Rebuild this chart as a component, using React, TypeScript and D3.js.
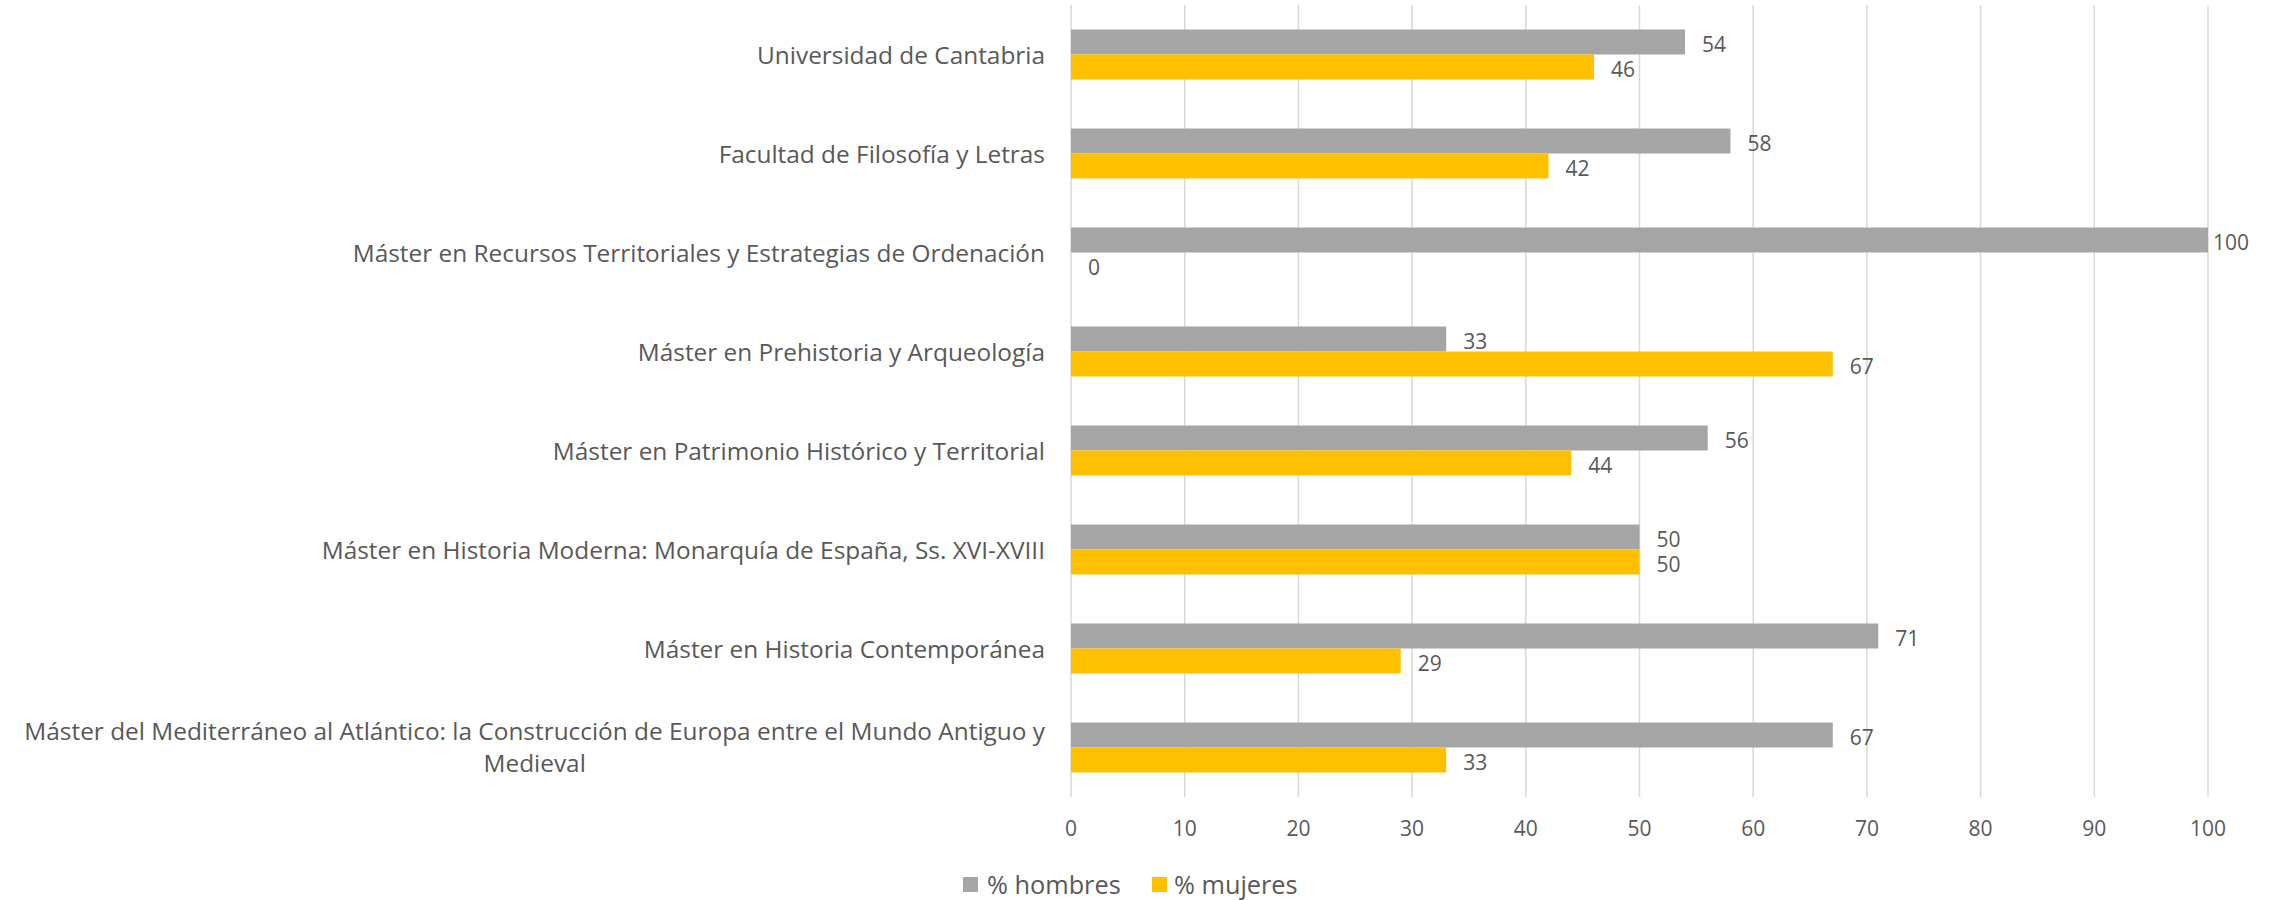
import React, { useLayoutEffect, useRef, useState } from "react";
import * as d3 from "d3";

const categories: string[][] = [
  ["Universidad de Cantabria"],
  ["Facultad de Filosofía y Letras"],
  ["Máster en Recursos Territoriales y Estrategias de Ordenación"],
  ["Máster en Prehistoria y Arqueología"],
  ["Máster en Patrimonio Histórico y Territorial"],
  ["Máster en Historia Moderna: Monarquía de España, Ss. XVI-XVIII"],
  ["Máster en Historia Contemporánea"],
  ["Máster del Mediterráneo al Atlántico: la Construcción de Europa entre el Mundo Antiguo y", "Medieval"],
];
const hombres = [54, 58, 100, 33, 56, 50, 71, 67];
const mujeres = [46, 42, 0, 67, 44, 50, 29, 33];
const seriesNames = ["% hombres", "% mujeres"];
const seriesColors = ["#A5A5A5", "#FFC000"];
const xTicks = [0, 10, 20, 30, 40, 50, 60, 70, 80, 90, 100];

const W = 2279;
const H = 900;
const FONT = "'Open Sans', sans-serif";
const TXT = "#595959";
const CAT_FS = 24.4;

export default function App() {
  const x = d3.scaleLinear().domain([0, 100]).range([1071, 2208]);
  const keys = categories.map((_, i) => String(i));
  const y0 = d3.scaleBand<string>().domain(keys).range([5, 797]).padding(0);
  const y1 = d3
    .scaleBand<string>()
    .domain(seriesNames)
    .range([y0.bandwidth() / 2 - 25, y0.bandwidth() / 2 + 25]);
  const series = [hombres, mujeres];

  const line1Ref = useRef<SVGTextElement>(null);
  const [w1, setW1] = useState(1030);
  useLayoutEffect(() => {
    if (line1Ref.current) setW1(line1Ref.current.getComputedTextLength());
  }, []);

  const labelRight = 1045;

  return (
    <svg
      width={W}
      height={H}
      style={{ position: "absolute", left: 0, top: 0, background: "#fff" }}
      fontFamily={FONT}
    >
      <rect x={0} y={0} width={W} height={H} fill="#fff" />
      {xTicks.map((t) => (
        <line
          key={"g" + t}
          x1={x(t)}
          x2={x(t)}
          y1={5}
          y2={797}
          stroke="#D9D9D9"
          strokeWidth={1.5}
        />
      ))}
      {xTicks.map((t) => (
        <text
          key={"t" + t}
          x={x(t)}
          y={828}
          textAnchor="middle"
          dominantBaseline="central"
          fontSize={21}
          fill={TXT}
        >
          {t}
        </text>
      ))}
      {keys.map((k, i) => {
        const top = y0(k)!;
        const cy = top + y0.bandwidth() / 2;
        const lines = categories[i];
        return (
          <g key={k}>
            {series.map((vals, s) => {
              const by = top + y1(seriesNames[s])!;
              const bh = y1.bandwidth();
              const v = vals[i];
              const lx = Math.min(x(v) + 17, x(100) + 5);
              return (
                <g key={s}>
                  <rect
                    x={x(0)}
                    y={by}
                    width={x(v) - x(0)}
                    height={bh}
                    fill={seriesColors[s]}
                  />
                  <text
                    x={lx}
                    y={by + bh / 2 + 1.5}
                    dominantBaseline="central"
                    fontSize={21}
                    fill={TXT}
                  >
                    {v}
                  </text>
                </g>
              );
            })}
            {lines.length === 1 ? (
              <text
                x={labelRight}
                y={cy}
                textAnchor="end"
                dominantBaseline="central"
                fontSize={CAT_FS}
                fill={TXT}
              >
                {lines[0]}
              </text>
            ) : (
              <g>
                <text
                  ref={line1Ref}
                  x={labelRight}
                  y={cy - 17}
                  textAnchor="end"
                  dominantBaseline="central"
                  fontSize={CAT_FS}
                  fill={TXT}
                >
                  {lines[0]}
                </text>
                <text
                  x={labelRight - w1 / 2}
                  y={cy + 15}
                  textAnchor="middle"
                  dominantBaseline="central"
                  fontSize={CAT_FS}
                  fill={TXT}
                >
                  {lines[1]}
                </text>
              </g>
            )}
          </g>
        );
      })}
      <g>
        <rect x={963} y={877} width={15} height={15} fill={seriesColors[0]} />
        <text x={987} y={884} dominantBaseline="central" fontSize={25.3} fill={TXT}>
          {seriesNames[0]}
        </text>
        <rect x={1152} y={877} width={15} height={15} fill={seriesColors[1]} />
        <text x={1174} y={884} dominantBaseline="central" fontSize={25.3} fill={TXT}>
          {seriesNames[1]}
        </text>
      </g>
    </svg>
  );
}
